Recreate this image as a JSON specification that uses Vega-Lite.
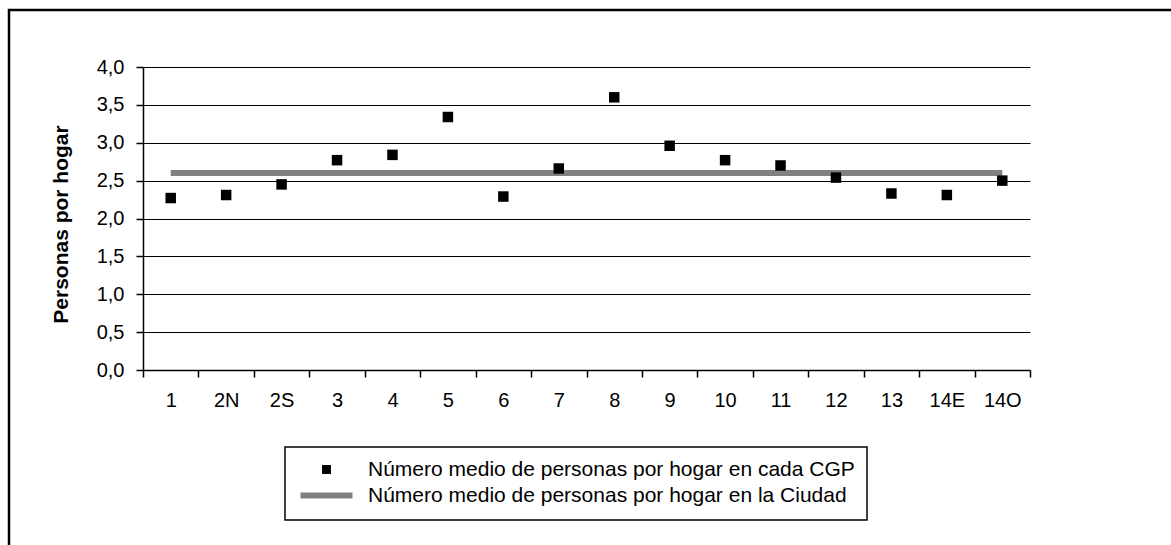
{
  "$schema": "https://vega.github.io/schema/vega-lite/v6.json",
  "autosize": {"type": "none"},
  "padding": {"left": 9, "top": 10, "right": 0, "bottom": 0},
  "width": 1162,
  "height": 535,
  "background": "white",
  "config": {
    "view": {"stroke": "black", "strokeWidth": 2.5, "fill": "white", "strokeDash": [1162, 1697, 535]},
    "font": "Liberation Sans",
    "axis": {"labelFont": "Liberation Sans", "labelColor": "black", "titleFont": "Liberation Sans", "titleColor": "black"},
    "legend": {"strokeColor": "black", "strokeWidth": 1.5, "padding": 12, "fillColor": "white"}
  },
  "datasets": {
    "cgp": [
      {"cgp": "1", "valor": 2.27, "serie": "Número medio de personas por hogar en cada CGP"},
      {"cgp": "2N", "valor": 2.31, "serie": "Número medio de personas por hogar en cada CGP"},
      {"cgp": "2S", "valor": 2.45, "serie": "Número medio de personas por hogar en cada CGP"},
      {"cgp": "3", "valor": 2.77, "serie": "Número medio de personas por hogar en cada CGP"},
      {"cgp": "4", "valor": 2.84, "serie": "Número medio de personas por hogar en cada CGP"},
      {"cgp": "5", "valor": 3.34, "serie": "Número medio de personas por hogar en cada CGP"},
      {"cgp": "6", "valor": 2.29, "serie": "Número medio de personas por hogar en cada CGP"},
      {"cgp": "7", "valor": 2.66, "serie": "Número medio de personas por hogar en cada CGP"},
      {"cgp": "8", "valor": 3.60, "serie": "Número medio de personas por hogar en cada CGP"},
      {"cgp": "9", "valor": 2.96, "serie": "Número medio de personas por hogar en cada CGP"},
      {"cgp": "10", "valor": 2.77, "serie": "Número medio de personas por hogar en cada CGP"},
      {"cgp": "11", "valor": 2.70, "serie": "Número medio de personas por hogar en cada CGP"},
      {"cgp": "12", "valor": 2.54, "serie": "Número medio de personas por hogar en cada CGP"},
      {"cgp": "13", "valor": 2.33, "serie": "Número medio de personas por hogar en cada CGP"},
      {"cgp": "14E", "valor": 2.31, "serie": "Número medio de personas por hogar en cada CGP"},
      {"cgp": "14O", "valor": 2.50, "serie": "Número medio de personas por hogar en cada CGP"}
    ],
    "ciudad": [
      {"cgp": "1", "valor": 2.6, "serie": "Número medio de personas por hogar en la Ciudad"},
      {"cgp": "2N", "valor": 2.6, "serie": "Número medio de personas por hogar en la Ciudad"},
      {"cgp": "2S", "valor": 2.6, "serie": "Número medio de personas por hogar en la Ciudad"},
      {"cgp": "3", "valor": 2.6, "serie": "Número medio de personas por hogar en la Ciudad"},
      {"cgp": "4", "valor": 2.6, "serie": "Número medio de personas por hogar en la Ciudad"},
      {"cgp": "5", "valor": 2.6, "serie": "Número medio de personas por hogar en la Ciudad"},
      {"cgp": "6", "valor": 2.6, "serie": "Número medio de personas por hogar en la Ciudad"},
      {"cgp": "7", "valor": 2.6, "serie": "Número medio de personas por hogar en la Ciudad"},
      {"cgp": "8", "valor": 2.6, "serie": "Número medio de personas por hogar en la Ciudad"},
      {"cgp": "9", "valor": 2.6, "serie": "Número medio de personas por hogar en la Ciudad"},
      {"cgp": "10", "valor": 2.6, "serie": "Número medio de personas por hogar en la Ciudad"},
      {"cgp": "11", "valor": 2.6, "serie": "Número medio de personas por hogar en la Ciudad"},
      {"cgp": "12", "valor": 2.6, "serie": "Número medio de personas por hogar en la Ciudad"},
      {"cgp": "13", "valor": 2.6, "serie": "Número medio de personas por hogar en la Ciudad"},
      {"cgp": "14E", "valor": 2.6, "serie": "Número medio de personas por hogar en la Ciudad"},
      {"cgp": "14O", "valor": 2.6, "serie": "Número medio de personas por hogar en la Ciudad"}
    ]
  },
  "encoding": {
    "x": {
      "field": "cgp", "type": "nominal", "sort": null,
      "scale": {"domain": ["1","2N","2S","3","4","5","6","7","8","9","10","11","12","13","14E","14O"], "range": [134, 1021], "paddingInner": 0, "paddingOuter": 0},
      "axis": {"title": null, "labelAngle": 0, "labelFontSize": 20, "labelPadding": 13, "tickBand": "extent", "tickSize": 7, "tickColor": "black", "tickWidth": 1.5, "domainColor": "black", "domainWidth": 1.5, "grid": false, "offset": -175, "labelColor": "black"}
    },
    "y": {
      "field": "valor", "type": "quantitative",
      "scale": {"domain": [0, 4], "range": [360, 57], "nice": false, "zero": true},
      "axis": {
        "title": "Personas por hogar", "titleFontSize": 21, "titleFontWeight": "bold", "titleAngle": -90, "titleX": -76, "titleY": 214, "titleAlign": "center", "titleBaseline": "alphabetic",
        "values": [0, 0.5, 1, 1.5, 2, 2.5, 3, 3.5, 4],
        "labelExpr": "replace(format(datum.value, '.1f'), '.', ',')",
        "labelFontSize": 20, "labelPadding": 12, "tickSize": 7, "tickColor": "black", "tickWidth": 1.5,
        "domainColor": "black", "domainWidth": 1.5, "grid": true, "gridColor": "black", "gridWidth": 1.2, "gridOpacity": 1,
        "offset": -134
      }
    },
    "color": {
      "field": "serie", "type": "nominal",
      "scale": {"domain": ["Número medio de personas por hogar en cada CGP", "Número medio de personas por hogar en la Ciudad"], "range": ["black", "#808080"]},
      "legend": {
        "title": null, "orient": "none", "legendX": 276, "legendY": 437,
        "labelFontSize": 21, "labelFont": "Liberation Sans", "labelColor": "black", "labelLimit": 0,
        "labelOffset": 31, "symbolOffset": 19, "rowPadding": 3, "symbolSize": 100,
        "symbolType": "square", "symbolStrokeWidth": 0,
        "encode": {
          "symbols": {"update": {
            "shape": {"signal": "datum.value == 'Número medio de personas por hogar en la Ciudad' ? 'stroke' : 'square'"},
            "size": {"signal": "datum.value == 'Número medio de personas por hogar en la Ciudad' ? 2704 : 80"},
            "strokeWidth": {"signal": "datum.value == 'Número medio de personas por hogar en la Ciudad' ? 6 : 0"},
            "stroke": {"signal": "datum.value == 'Número medio de personas por hogar en la Ciudad' ? '#808080' : 'black'"},
            "fill": {"value": "black"}
          }}
        }
      }
    }
  },
  "layer": [
    {"data": {"name": "ciudad"}, "mark": {"type": "line", "strokeWidth": 6}},
    {"data": {"name": "cgp"}, "mark": {"type": "point", "shape": "square", "filled": true, "size": 110, "opacity": 1}}
  ]
}
